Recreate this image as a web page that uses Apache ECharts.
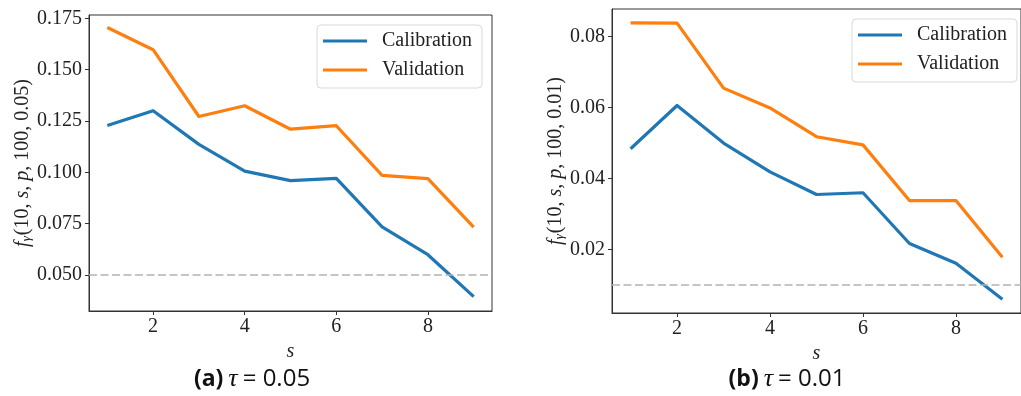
<!DOCTYPE html>
<html>
<head>
<meta charset="utf-8">
<script src="https://cdn.jsdelivr.net/npm/echarts@6/dist/echarts.min.js"></script>
<style>
  html, body { margin: 0; padding: 0; background: #fff; }
  #chart { width: 1021px; height: 396px; }
</style>
</head>
<body>
<div id="chart"></div>
<script>
// s values on the x axis
const sValues = [1, 2, 3, 4, 5, 6, 7, 8, 9]

// (a) tau = 0.05
const calibA = [0.1228, 0.1300, 0.1136, 0.1006, 0.0960, 0.0971, 0.0735, 0.0599, 0.0395]
const validA = [0.1705, 0.1597, 0.1272, 0.1324, 0.1210, 0.1227, 0.0985, 0.0969, 0.0733]
const tauA = 0.05

// (b) tau = 0.01
const calibB = [0.0484, 0.0606, 0.0500, 0.0419, 0.0355, 0.0360, 0.0217, 0.0161, 0.0060]
const validB = [0.0839, 0.0838, 0.0655, 0.0599, 0.0518, 0.0495, 0.0338, 0.0338, 0.0178]
const tauB = 0.01

// tick labels
const xTicks = [2, 4, 6, 8]
const yTicksA = [0.050, 0.075, 0.100, 0.125, 0.150, 0.175]
const yTicksB = [0.02, 0.04, 0.06, 0.08]

const BLUE = '#1f77b4'
const ORANGE = '#ff7f0e'
const SERIF = '"Liberation Serif", "DejaVu Serif", serif'
const SANS = '"Open Sans", "Noto Sans", sans-serif'
const TEXT = '#222'

const pairs = (ys) => sValues.map((s, i) => [s, ys[i]])

const axisRich = {
  i: { fontFamily: SERIF, fontStyle: 'italic', fontSize: 20, color: TEXT },
  sub: { fontFamily: SERIF, fontStyle: 'italic', fontSize: 13, color: TEXT, padding: [7, 1, 0, 0] },
  n: { fontFamily: SERIF, fontSize: 20, color: TEXT }
}

function yName(tau) {
  return '{i|f}{sub|γ}{n|(10, }{i|s}{n|, }{i|p}{n|, 100, ' + tau + ')}'
}

function xAxisFor(gridIndex) {
  return {
    type: 'value',
    gridIndex,
    min: 0.6,
    max: 9.4,
    name: 's',
    nameLocation: 'middle',
    nameGap: 31,
    nameTextStyle: { fontFamily: SERIF, fontStyle: 'italic', fontSize: 20, color: TEXT },
    axisLine: { show: true, onZero: false, lineStyle: { color: '#333', width: 1 } },
    axisTick: { show: true, length: 4, customValues: xTicks, lineStyle: { color: '#333' } },
    axisLabel: { customValues: xTicks, margin: 6, fontFamily: SERIF, fontSize: 20, color: TEXT },
    splitLine: { show: false }
  }
}

function yAxisFor(gridIndex, min, max, ticks, digits, tau, gap) {
  return {
    type: 'value',
    gridIndex,
    min,
    max,
    name: yName(tau),
    nameLocation: 'middle',
    nameGap: gap,
    nameRotate: 90,
    nameTextStyle: { rich: axisRich },
    axisLine: { show: true, lineStyle: { color: '#333', width: 1 } },
    axisTick: { show: true, length: 4, customValues: ticks, lineStyle: { color: '#333' } },
    axisLabel: {
      customValues: ticks,
      margin: 7,
      fontFamily: SERIF,
      fontSize: 20,
      color: TEXT,
      formatter: (v) => v.toFixed(digits)
    },
    splitLine: { show: false }
  }
}

function lineSeries(name, data, color, idx) {
  return {
    name,
    type: 'line',
    xAxisIndex: idx,
    yAxisIndex: idx,
    data: pairs(data),
    showSymbol: false,
    symbol: 'none',
    z: 3,
    lineStyle: { color, width: 3.2, join: 'round' },
    itemStyle: { color },
    emphasis: { disabled: true },
    animation: false
  }
}

function tauLine(tau, idx) {
  return {
    type: 'line',
    xAxisIndex: idx,
    yAxisIndex: idx,
    data: [],
    z: 1,
    silent: true,
    animation: false,
    markLine: {
      symbol: ['none', 'none'],
      silent: true,
      animation: false,
      label: { show: false },
      lineStyle: { color: '#b3b3b3', width: 1.5, type: [8, 3.5] },
      data: [{ yAxis: tau }]
    }
  }
}

function legendAt(left, top, gap) {
  return {
    orient: 'vertical',
    left,
    top,
    data: ['Calibration', 'Validation'],
    icon: 'rect',
    itemWidth: 44,
    itemHeight: 3.2,
    itemGap: gap,
    padding: [6, 10, 8, 6],
    backgroundColor: '#fff',
    borderColor: '#d9d9d9',
    borderWidth: 1,
    borderRadius: 4,
    selectedMode: false,
    textStyle: { fontFamily: SERIF, fontSize: 20, color: TEXT, padding: [0, 0, 0, 10] }
  }
}

function caption(letter, tau, center) {
  return {
    text: '{b|(' + letter + ')} {t|τ} {n|= ' + tau + '}',
    left: center,
    top: 366,
    textAlign: 'center',
    padding: 0,
    textStyle: {
      fontWeight: 'normal',
      rich: {
        b: { fontFamily: SANS, fontWeight: 'bold', fontSize: 23, color: '#111' },
        t: { fontFamily: SERIF, fontStyle: 'italic', fontWeight: 'normal', fontSize: 26, color: '#111' },
        n: { fontFamily: SANS, fontWeight: 'normal', fontSize: 24, color: '#111' }
      }
    }
  }
}

const chart = echarts.init(document.getElementById('chart'), null, { renderer: 'canvas' })

chart.setOption({
  animation: false,
  backgroundColor: '#fff',
  title: [caption('a', tauA, 252), caption('b', tauB, 787)],
  legend: [legendAt(317, 25, 9), legendAt(852, 19, 9)],
  grid: [
    { left: 89, top: 15, right: 529, bottom: 85, show: true, borderColor: '#333', borderWidth: 1, backgroundColor: 'transparent' },
    { left: 612, top: 9, right: -9, bottom: 83, show: true, borderColor: '#333', borderWidth: 1, backgroundColor: 'transparent' }
  ],
  xAxis: [xAxisFor(0), xAxisFor(1)],
  yAxis: [
    yAxisFor(0, 0.0325, 0.1766, yTicksA, 3, tauA, 50),
    yAxisFor(1, 0.0021, 0.0878, yTicksB, 2, tauB, 45)
  ],
  series: [
    tauLine(tauA, 0),
    lineSeries('Calibration', calibA, BLUE, 0),
    lineSeries('Validation', validA, ORANGE, 0),
    tauLine(tauB, 1),
    lineSeries('Calibration', calibB, BLUE, 1),
    lineSeries('Validation', validB, ORANGE, 1)
  ]
})

window.addEventListener('resize', () => chart.resize())
</script>
</body>
</html>
